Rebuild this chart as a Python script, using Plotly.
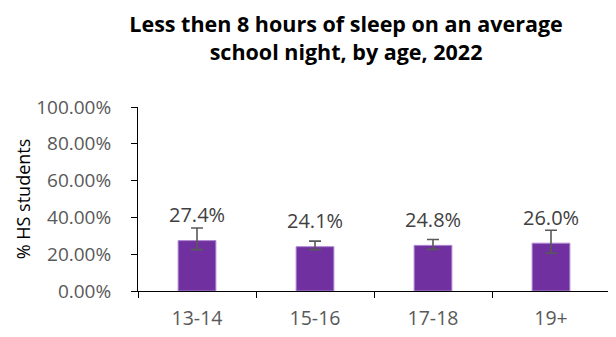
import plotly.graph_objs as go

ages = ['13-14', '15-16', '17-18', '19+']
pct = [27.4, 24.1, 24.8, 26.0]
err_plus = [6.8, 3.0, 3.2, 7.0]
err_minus = [4.9, 1.6, 2.2, 5.5]
labels = ['27.4%', '24.1%', '24.8%', '26.0%']

font_family = 'Open Sans, Calibri, sans-serif'

# the page body adds an 8px margin, so the figure is a bit smaller than the window
trace = go.Bar(
    x=ages,
    y=pct,
    marker=dict(color='#7030A0', line=dict(color='#B08AD0', width=1)),
    error_y=dict(type='data', symmetric=False, array=err_plus, arrayminus=err_minus,
                 color='#595959', thickness=1.6, width=6),
    width=0.32,
    hoverinfo='skip'
)

layout = go.Layout(
    title=dict(text='<b>Less then 8 hours of sleep on an average<br>school night, by age, 2022</b>',
               xref='container', yref='container',
               x=0.556, xanchor='center', y=0.928, yanchor='middle',
               font=dict(family=font_family, size=21.5, color='#000000')),
    width=608, height=329,
    margin=dict(l=130, r=6, t=99, b=43),
    paper_bgcolor='white',
    plot_bgcolor='white',
    showlegend=False,
    font=dict(family=font_family, size=19, color='#595959'),
    xaxis=dict(showline=True, linecolor='#000000', linewidth=1,
               ticks='outside', tickson='boundaries', ticklen=6, tickcolor='#000000',
               ticklabelstandoff=10,
               tickfont=dict(size=19.5, color='#595959'), showgrid=False),
    yaxis=dict(range=[0, 100], dtick=20, ticksuffix='.00%', showline=True,
               linecolor='#000000', linewidth=1, ticks='outside', ticklen=6,
               tickcolor='#000000', showgrid=False, zeroline=False,
               ticklabelstandoff=16,
               tickfont=dict(size=19, color='#595959'),
               title=dict(text='% HS students', standoff=0,
                          font=dict(size=18, color='#000000'))),
)

fig = go.Figure(data=[trace], layout=layout)

for a, v, t in zip(ages, pct, labels):
    fig.add_annotation(x=a, y=v, text=t, showarrow=False, yanchor='middle', yshift=26,
                       font=dict(family=font_family, size=20, color='#404040'))

fig.write_html('out.html')
